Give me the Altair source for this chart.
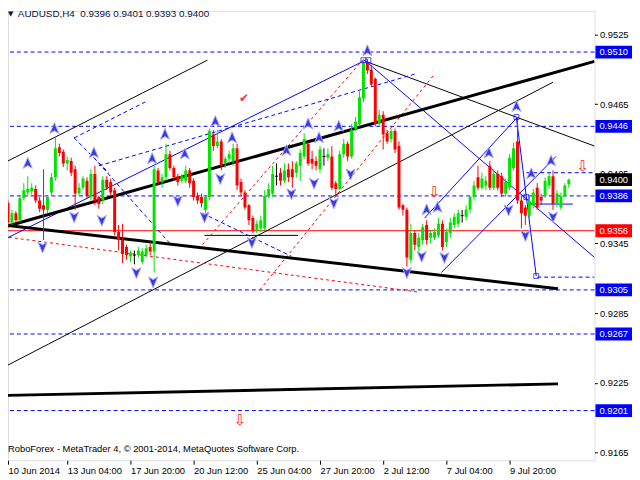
import altair as alt
import pandas as pd

# ---------------- candle data (AUDUSD H4) ----------------
opens = [0.9359,0.9380,0.9363,0.9371,0.9365,0.9384,0.9389,0.9390,0.9392,0.9382,
         0.9378,0.9374,0.9389,0.9402,0.9428,0.9424,0.9414,0.9416,0.9409,0.9388,
         0.9393,0.9399,0.9385,0.9405,0.9385,0.9382,0.9400,0.9398,0.9391,0.9355,
         0.9348,0.9342,0.9334,0.9335,0.9335,0.9329,0.9335,0.9342,0.9338,0.9408,
         0.9398,0.9402,0.9422,0.9410,0.9403,0.9399,0.9399,0.9408,0.9399,0.9386,
         0.9385,0.9374,0.9385,0.9439,0.9429,0.9433,0.9414,0.9418,0.9416,0.9427,
         0.9398,0.9389,0.9378,0.9367,0.9356,0.9358,0.9358,0.9386,0.9388,0.9403,
         0.9406,0.9399,0.9409,0.9409,0.9406,0.9412,0.9420,0.9431,0.9418,0.9416,
         0.9409,0.9420,0.9419,0.9420,0.9397,0.9392,0.9422,0.9431,0.9420,0.9444,
         0.9448,0.9470,0.9501,0.9495,0.9487,0.9448,0.9456,0.9440,0.9435,0.9442,
         0.9429,0.9378,0.9374,0.9331,0.9354,0.9342,0.9348,0.9361,0.9350,0.9350,
         0.9352,0.9362,0.9346,0.9354,0.9361,0.9362,0.9369,0.9368,0.9374,0.9385,
         0.9402,0.9393,0.9395,0.9412,0.9393,0.9405,0.9403,0.9388,0.9393,0.9410,
         0.9433,0.9382,0.9376,0.9369,0.9378,0.9393,0.9385,0.9386,0.9395,0.9403,
         0.9379,0.9376,0.9386,0.9396]
highs = [0.9384,0.9382,0.9374,0.9373,0.9386,0.9397,0.9403,0.9397,0.9395,0.9385,
         0.9409,0.9386,0.9406,0.9436,0.9431,0.9426,0.9420,0.9419,0.9412,0.9397,
         0.9403,0.9402,0.9409,0.9412,0.9386,0.9403,0.9403,0.9401,0.9393,0.9361,
         0.9362,0.9344,0.9339,0.9339,0.9342,0.9341,0.9344,0.9346,0.9412,0.9410,
         0.9405,0.9431,0.9425,0.9412,0.9405,0.9405,0.9412,0.9410,0.9401,0.9389,
         0.9388,0.9386,0.9444,0.9443,0.9443,0.9435,0.9420,0.9425,0.9431,0.9431,
         0.9401,0.9391,0.9379,0.9369,0.9365,0.9369,0.9391,0.9397,0.9412,0.9414,
         0.9410,0.9414,0.9414,0.9416,0.9416,0.9426,0.9440,0.9433,0.9425,0.9420,
         0.9429,0.9427,0.9427,0.9429,0.9399,0.9425,0.9435,0.9433,0.9448,0.9454,
         0.9476,0.9504,0.9504,0.9499,0.9488,0.9460,0.9459,0.9443,0.9444,0.9444,
         0.9433,0.9379,0.9376,0.9362,0.9356,0.9354,0.9362,0.9365,0.9356,0.9358,
         0.9367,0.9365,0.9358,0.9367,0.9371,0.9374,0.9374,0.9378,0.9386,0.9399,
         0.9412,0.9406,0.9403,0.9416,0.9409,0.9408,0.9406,0.9401,0.9422,0.9432,
         0.9454,0.9386,0.9378,0.9385,0.9392,0.9397,0.9388,0.9402,0.9406,0.9408,
         0.9391,0.9389,0.9397,0.9401]
lows = [0.9357,0.9360,0.9361,0.9362,0.9363,0.9382,0.9386,0.9387,0.9380,0.9372,
        0.9348,0.9371,0.9386,0.9399,0.9420,0.9411,0.9408,0.9403,0.9374,0.9386,
        0.9391,0.9384,0.9382,0.9378,0.9375,0.9379,0.9391,0.9386,0.9352,0.9339,
        0.9328,0.9331,0.9329,0.9327,0.9333,0.9327,0.9333,0.9335,0.9320,0.9395,
        0.9393,0.9399,0.9408,0.9399,0.9395,0.9397,0.9397,0.9393,0.9382,0.9379,
        0.9376,0.9371,0.9382,0.9425,0.9427,0.9408,0.9410,0.9414,0.9412,0.9391,
        0.9386,0.9374,0.9361,0.9354,0.9354,0.9355,0.9356,0.9384,0.9385,0.9395,
        0.9395,0.9397,0.9398,0.9393,0.9402,0.9399,0.9418,0.9412,0.9409,0.9408,
        0.9406,0.9412,0.9416,0.9391,0.9386,0.9391,0.9419,0.9416,0.9418,0.9442,
        0.9446,0.9467,0.9491,0.9480,0.9446,0.9446,0.9426,0.9431,0.9432,0.9423,
        0.9374,0.9369,0.9325,0.9328,0.9339,0.9338,0.9344,0.9344,0.9345,0.9348,
        0.9350,0.9339,0.9342,0.9350,0.9358,0.9359,0.9363,0.9365,0.9371,0.9382,
        0.9391,0.9391,0.9391,0.9391,0.9391,0.9391,0.9385,0.9385,0.9391,0.9408,
        0.9379,0.9358,0.9361,0.9367,0.9375,0.9374,0.9378,0.9384,0.9392,0.9374,
        0.9376,0.9374,0.9385,0.9393]
closes = [0.9382,0.9363,0.9371,0.9365,0.9384,0.9391,0.9392,0.9393,0.9382,0.9375,
          0.9374,0.9385,0.9402,0.9427,0.9423,0.9414,0.9417,0.9406,0.9388,0.9393,
          0.9401,0.9386,0.9405,0.9382,0.9379,0.9400,0.9393,0.9389,0.9355,0.9348,
          0.9336,0.9335,0.9337,0.9335,0.9339,0.9338,0.9341,0.9338,0.9409,0.9398,
          0.9402,0.9422,0.9410,0.9402,0.9398,0.9403,0.9408,0.9397,0.9385,0.9382,
          0.9380,0.9385,0.9442,0.9429,0.9433,0.9412,0.9418,0.9422,0.9427,0.9395,
          0.9389,0.9376,0.9365,0.9356,0.9362,0.9365,0.9386,0.9392,0.9405,0.9403,
          0.9399,0.9408,0.9402,0.9402,0.9414,0.9423,0.9435,0.9414,0.9414,0.9412,
          0.9426,0.9420,0.9422,0.9393,0.9392,0.9422,0.9431,0.9420,0.9443,0.9450,
          0.9471,0.9501,0.9494,0.9482,0.9448,0.9456,0.9439,0.9433,0.9442,0.9426,
          0.9376,0.9374,0.9333,0.9354,0.9344,0.9350,0.9359,0.9348,0.9354,0.9355,
          0.9362,0.9342,0.9355,0.9363,0.9368,0.9371,0.9369,0.9374,0.9385,0.9395,
          0.9393,0.9401,0.9399,0.9393,0.9405,0.9393,0.9388,0.9398,0.9419,0.9427,
          0.9382,0.9371,0.9369,0.9382,0.9389,0.9376,0.9382,0.9399,0.9403,0.9379,
          0.9388,0.9386,0.9395,0.9400]

# axis ticks / labels
price_ticks = [0.9525, 0.9495, 0.9465, 0.9435, 0.9405, 0.9375, 0.9345,
               0.9315, 0.9285, 0.9255, 0.9225, 0.9195, 0.9165]
time_tick_idx = [1, 16, 32, 48, 64, 80, 96, 112, 128]
time_tick_labels = ["10 Jun 2014", "13 Jun 04:00", "17 Jun 20:00", "20 Jun 12:00",
                    "25 Jun 04:00", "27 Jun 20:00", "2 Jul 12:00", "7 Jul 04:00",
                    "9 Jul 20:00"]

# horizontal levels
blue_levels = [0.9510, 0.9446, 0.9386, 0.9305, 0.9267, 0.9201]
red_level = 0.9356
last_price = 0.9400
short_levels = [(132.25, 0.9406), (135.0, 0.9316)]

# trend / analysis lines: (bar1, price1, bar2, price2)
thick_black = [(-0.25, 0.9359, 149.5, 0.9502),
               (-0.25, 0.9361, 140.25, 0.9306),
               (-0.25, 0.9214, 140.25, 0.9224)]
thin_black = [(-0.25, 0.9414, 51.5, 0.9503),
              (-0.25, 0.9238, 139.0, 0.9484),
              (91.5, 0.9502, 149.5, 0.9429),
              (50.75, 0.9352, 74.5, 0.9352)]
blue_solid = [(-0.25, 0.9348, 91.5, 0.9503),
              (92.0, 0.9501, 149.5, 0.9333),
              (129.75, 0.9453, 134.75, 0.9317),
              (106.5, 0.9367, 129.75, 0.9453),
              (110.75, 0.9320, 139.75, 0.9420),
              (133.25, 0.9379, 144.0, 0.9379)]
blue_dashed = [(22.75, 0.9419, 42.0, 0.9345),
               (50.25, 0.9371, 72.75, 0.9334),
               (24.0, 0.9412, 104.0, 0.9491),
               (17.75, 0.9436, 35.75, 0.9467),
               (17.75, 0.9436, 26.5, 0.9406)]
red_dashed = [(-0.25, 0.9351, 105.25, 0.9303),
              (50.25, 0.9344, 90.75, 0.9503),
              (64.75, 0.9305, 109.0, 0.9491)]

# fractal arrows (bar, price)
up_arrows = [(6, 0.9414), (12.75, 0.9444), (22.75, 0.9423), (37.5, 0.9418),
             (40.75, 0.9439), (45.75, 0.9422), (53.5, 0.9450), (57.75, 0.9436),
             (71.5, 0.9425), (77, 0.9448), (79.75, 0.9436), (84.75, 0.9446),
             (92, 0.9511), (107, 0.9374), (109.75, 0.9376), (122.75, 0.9423),
             (129.75, 0.9463), (133.5, 0.9405), (138.5, 0.9416)]
down_arrows = [(9.75, 0.9342), (17.75, 0.9368), (24.75, 0.9365), (33.5, 0.9320),
               (37.75, 0.9312), (44, 0.9382), (50.75, 0.9368), (54.75, 0.9401),
               (62.75, 0.9346), (72.75, 0.9388), (78.5, 0.9397), (83.5, 0.9380),
               (87.75, 0.9405), (102, 0.9320), (105.75, 0.9334), (111.5, 0.9333),
               (127.75, 0.9374), (132, 0.9352), (139, 0.9368)]
squares = [(91, 0.9503), (92.25, 0.9503), (129.75, 0.9454), (134.75, 0.9317),
           (132.25, 0.9385)]
red_down_marks = [(109, 0.9389), (146.5, 0.9412), (59.75, 0.9193)]
check_mark = [(60.75, 0.9470)]

# ---------------- build ----------------
W, H = 594, 455
FONT = "Liberation Sans"
XD = [1, 149.5]
YD = [0.91582, 0.95454]
xs = alt.Scale(domain=XD, nice=False, zero=False)
ys = alt.Scale(domain=YD, nice=False, zero=False)

n = len(opens)
dirs = ["up" if c > o else ("down" if c < o else "flat") for o, c in zip(opens, closes)]
cdf = pd.DataFrame({"i": list(range(n)), "o": opens, "h": highs, "l": lows,
                    "c": closes, "d": dirs})
col = alt.Color("d:N", scale=alt.Scale(domain=["up", "down", "flat"],
                                       range=["#00e400", "#ff0000", "#000000"]),
                legend=None)

label_expr = " : ".join(f"datum.value == {v} ? '{t}'" for v, t in
                        zip(time_tick_idx, time_tick_labels)) + " : ''"

base = alt.Chart(cdf)
wicks = base.mark_rule(strokeWidth=1, clip=True).encode(
    x=alt.X("i:Q", scale=xs, axis=alt.Axis(values=time_tick_idx, labelExpr=label_expr,
                                            title=None, grid=False, domain=False,
                                            tickSize=4, tickColor="#000",
                                            labelAlign="left", labelPadding=1,
                                            labelFont=FONT, labelFontSize=9.5,
                                            labelColor="#000", labelFlush=False)),
    y=alt.Y("l:Q", scale=ys, axis=alt.Axis(values=price_ticks, format=".4f", title=None,
                                            orient="right", grid=False, domain=False,
                                            tickSize=3, tickColor="#000",
                                            labelPadding=2, labelFont=FONT,
                                            labelFontSize=9.5, labelColor="#000")),
    y2="h:Q", color=col)
bodies = base.transform_filter("datum.d != 'flat'").mark_rect(
    clip=True, xOffset=-1.5, x2Offset=1.5).encode(
    x=alt.X("i:Q", scale=xs), x2="i:Q",
    y=alt.Y("o:Q", scale=ys), y2="c:Q", color=col)
dojis = base.transform_filter("datum.d == 'flat'").mark_rule(
    clip=True, xOffset=-1.5, x2Offset=1.5, color="#000").encode(
    x=alt.X("i:Q", scale=xs), x2="i:Q", y=alt.Y("o:Q", scale=ys))


def seg_layer(segs, color, width, dash=None):
    d = pd.DataFrame(segs, columns=["a", "p", "b", "q"])
    kw = dict(color=color, strokeWidth=width, clip=True)
    if dash:
        kw["strokeDash"] = dash
    return alt.Chart(d).mark_rule(**kw).encode(
        x=alt.X("a:Q", scale=xs), y=alt.Y("p:Q", scale=ys), x2="b:Q", y2="q:Q")


lv = pd.DataFrame({"p": blue_levels})
levels = alt.Chart(lv).mark_rule(color="#0000ff", strokeDash=[4, 3], strokeWidth=1).encode(
    y=alt.Y("p:Q", scale=ys))
red_line = alt.Chart(pd.DataFrame({"p": [red_level]})).mark_rule(
    color="#ff0000", strokeWidth=1).encode(y=alt.Y("p:Q", scale=ys))
sl = pd.DataFrame(short_levels, columns=["a", "p"])
short = alt.Chart(sl).mark_rule(color="#0000ff", strokeDash=[4, 3], clip=True).encode(
    x=alt.X("a:Q", scale=xs), x2=alt.value(W), y=alt.Y("p:Q", scale=ys))

up_path = "M0,-1L0.75,0.8L0,0.35L-0.75,0.8Z"
down_path = "M0,1L0.75,-0.8L0,-0.35L-0.75,-0.8Z"


def pts(lst):
    return pd.DataFrame(lst, columns=["a", "p"])


ups = alt.Chart(pts(up_arrows)).mark_point(
    shape=up_path, filled=True, fill="#3a3ae0", stroke="#a8a8ff", strokeWidth=1,
    size=150, opacity=1, clip=True).encode(x=alt.X("a:Q", scale=xs), y=alt.Y("p:Q", scale=ys))
downs = alt.Chart(pts(down_arrows)).mark_point(
    shape=down_path, filled=True, fill="#3a3ae0", stroke="#a8a8ff", strokeWidth=1,
    size=150, opacity=1, clip=True).encode(x=alt.X("a:Q", scale=xs), y=alt.Y("p:Q", scale=ys))
sq = alt.Chart(pts(squares)).mark_point(
    shape="square", filled=False, color="#0000ff", size=25, strokeWidth=1).encode(
    x=alt.X("a:Q", scale=xs), y=alt.Y("p:Q", scale=ys))
reds = alt.Chart(pts(red_down_marks)).mark_text(
    text="\u21e9", color="#ff2020", fontSize=15, font="DejaVu Sans").encode(
    x=alt.X("a:Q", scale=xs), y=alt.Y("p:Q", scale=ys))
check = alt.Chart(pts(check_mark)).mark_text(
    text="\u2714", color="#ff3030", fontSize=12, font="DejaVu Sans").encode(
    x=alt.X("a:Q", scale=xs), y=alt.Y("p:Q", scale=ys))

# price label boxes on the right axis
box_levels = blue_levels + [red_level, last_price]
box_colors = ["#0000ff"] * len(blue_levels) + ["#ff0000", "#000000"]
bdf = pd.DataFrame({"p": box_levels, "col": box_colors,
                    "t": [f"{v:.4f}" for v in box_levels]})
boxes = alt.Chart(bdf).mark_rect(yOffset=-6.5, y2Offset=6.5).encode(
    x=alt.value(W + 1), x2=alt.value(W + 38), y=alt.Y("p:Q", scale=ys), y2="p:Q",
    color=alt.Color("col:N", scale=None))
box_txt = alt.Chart(bdf).mark_text(align="left", baseline="middle", color="#ffffff",
                                   font=FONT, fontSize=9.5).encode(
    x=alt.value(W + 5), y=alt.Y("p:Q", scale=ys), text="t:N")

# header and footer texts
hdr = pd.DataFrame({"t": ["AUDUSD,H4\u00a0\u00a00.9396 0.9401 0.9393 0.9400"]})
title = alt.Chart(hdr).mark_text(align="left", baseline="middle", font=FONT,
                                 fontSize=10, color="#10103a").encode(
    x=alt.value(10), y=alt.value(3), text="t:N")
tri = alt.Chart(pd.DataFrame({"t": ["\u25bc"]})).mark_text(
    align="left", baseline="middle", font="DejaVu Sans", fontSize=7, color="#10103a").encode(
    x=alt.value(0), y=alt.value(3), text="t:N")
foot = alt.Chart(pd.DataFrame({"t": ["RoboForex - MetaTrader 4, \u00a9 2001-2014, MetaQuotes Software Corp."]})).mark_text(
    align="left", baseline="middle", font=FONT, fontSize=9.5, color="#000").encode(
    x=alt.value(0), y=alt.value(444), text="t:N")

chart = alt.layer(
    levels, red_line, short,
    seg_layer(thin_black, "#000000", 1),
    seg_layer(red_dashed, "#ff0000", 1, [3, 3]),
    seg_layer(blue_dashed, "#0000ff", 1, [4, 3]),
    seg_layer(blue_solid, "#0000ff", 1),
    seg_layer(thick_black, "#000000", 3),
    wicks, bodies, dojis,
    ups, downs, sq, reds, check,
    boxes, box_txt, title, tri, foot,
).properties(
    width=W, height=H,
    padding={"left": 0, "top": 0, "right": 38, "bottom": 17},
    autosize=alt.AutoSizeParams(type="none"),
).configure_view(stroke="#000000", strokeWidth=1).configure(background="#ffffff")

chart.save("out.html", embed_options={"renderer": "svg", "actions": False})
